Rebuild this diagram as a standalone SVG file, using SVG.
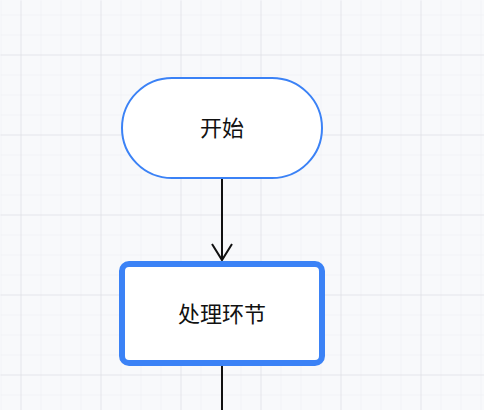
<svg xmlns="http://www.w3.org/2000/svg" width="484" height="410" viewBox="0 0 484 410">
  <defs>
    <pattern id="minor" x="20" y="14" width="20" height="20" patternUnits="userSpaceOnUse">
      <path d="M0 0H20M0 0V20" fill="none" stroke="#eceef2" stroke-width="1"/>
    </pattern>
    <pattern id="major" x="20" y="54" width="80" height="80" patternUnits="userSpaceOnUse">
      <path d="M0 0H80M0 0V80" fill="none" stroke="#d9dadf" stroke-width="1"/>
    </pattern>
    <marker id="arrow" viewBox="0 0 24 24" refX="20" refY="12" markerWidth="24" markerHeight="24" markerUnits="userSpaceOnUse" orient="auto">
      <path d="M4 2L20 12L4 22" fill="none" stroke="#111" stroke-width="2"/>
    </marker>
  </defs>
  <style>
    .label { font-family: "Noto Sans CJK SC", "Noto Sans", sans-serif; font-size: 22px; fill: #111; text-anchor: middle; }
    .edge { fill: none; stroke: #111; stroke-width: 2; }
  </style>
  <rect width="484" height="410" fill="#f8f9fb"/>
  <rect width="484" height="410" fill="url(#minor)" transform="translate(0.5 0.5)"/>
  <rect width="484" height="410" fill="url(#major)" transform="translate(0.5 0.5)"/>
  <g id="connectors">
    <path class="edge" d="M222 178V260" marker-end="url(#arrow)"/>
    <path class="edge" d="M222 366V410"/>
  </g>
  <g id="start">
    <rect x="122" y="78" width="200" height="100" rx="50" fill="#fff" stroke="#3b82f6" stroke-width="2"/>
    <text class="label" x="222" y="135.5">开始</text>
  </g>
  <g id="process">
    <rect x="122" y="264" width="200" height="99" rx="7" fill="#fff" stroke="#3b82f6" stroke-width="6"/>
    <text class="label" x="222" y="322">处理环节</text>
  </g>
</svg>
